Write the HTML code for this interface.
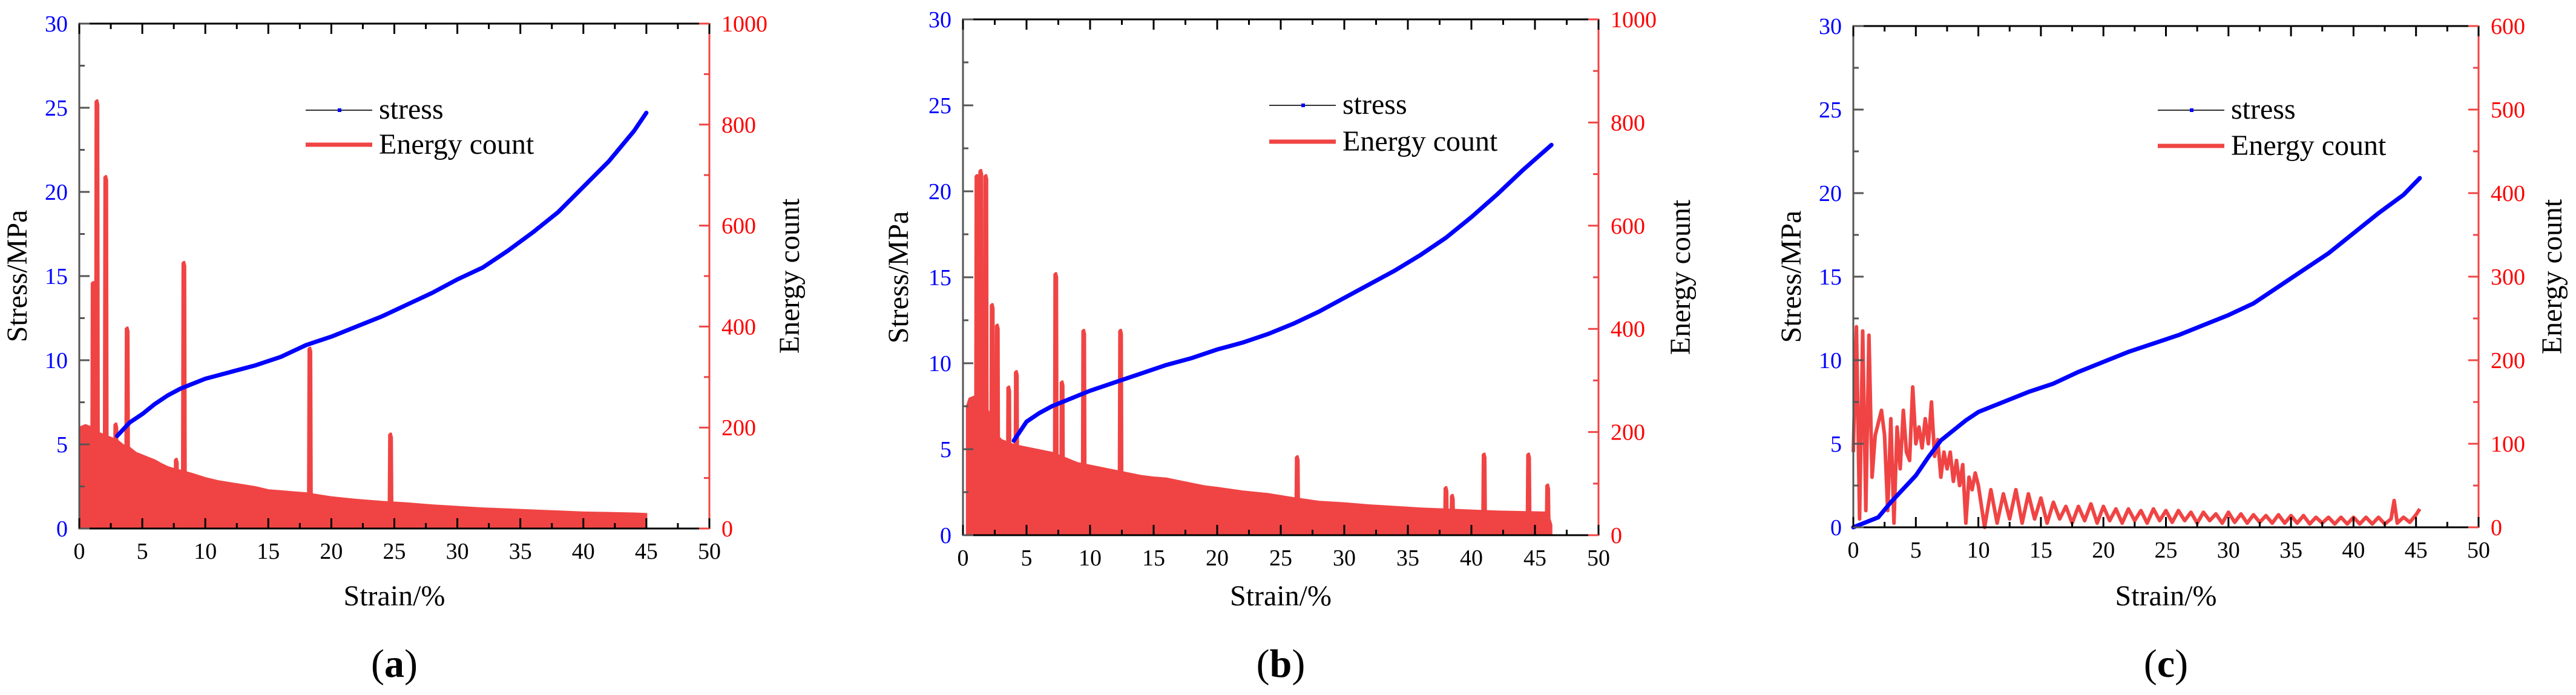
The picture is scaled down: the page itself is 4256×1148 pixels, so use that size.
<!DOCTYPE html>
<html><head><meta charset="utf-8"><title>Stress and energy count vs strain</title>
<style>
html,body{margin:0;padding:0;background:#fff;}
svg{display:block;}
svg text{font-family:"Liberation Serif","DejaVu Serif",serif;}
</style></head>
<body>
<svg id="fig" width="4256" height="1148" viewBox="0 0 4256 1148" xmlns="http://www.w3.org/2000/svg" font-family="Liberation Serif, DejaVu Serif, serif"></svg>
<script>
// ---------- Panel (a) data ----------
const aStressX = [3,4,5,6,7,8,9,10,12,14,16,18,20,22,24,26,28,30,32,34,36,38,40,42,44,45];
const aStressY = [5.5,6.3,6.8,7.4,7.9,8.3,8.6,8.9,9.3,9.7,10.2,10.9,11.4,12,12.6,13.3,14,14.8,15.5,16.5,17.6,18.8,20.3,21.8,23.6,24.7];
const aEnergyX = [0,0.5,1,1.5,2,2.5,3,3.5,4,4.5,5,5.5,6,6.5,7,7.5,8,9,10,11,12,13,14,15,16,17,18,19,20,22,24,26,28,30,32,34,36,38,40,42,44,45];
const aEnergyY = [200,205,200,190,185,180,175,165,160,150,145,140,135,128,122,118,115,108,100,94,90,86,82,76,74,72,70,66,62,57,53,50,46,43,40,38,36,34,32,31,30,29];
const aSpikeX = [1.1,1.4,2.1,2.9,3.8,7.7,8.3,18.3,24.7];
const aSpikeY = [490,850,700,210,400,140,530,360,190];
// ---------- Panel (b) data ----------
const bStressX = [4,5,6,7,8,10,12,14,16,18,20,22,24,26,28,30,32,34,36,38,40,42,44,46.3];
const bStressY = [5.5,6.6,7.1,7.5,7.8,8.4,8.9,9.4,9.9,10.3,10.8,11.2,11.7,12.3,13,13.8,14.6,15.4,16.3,17.3,18.5,19.8,21.2,22.7];
const bEnergyX = [0.3,0.5,1,1.5,2,2.5,3,4,5,6,7,8,9,10,11,12,13,14,15,16,17,18,19,20,22,24,26,28,30,32,34,36,38,40,42,44,46,46.3];
const bEnergyY = [250,265,270,260,240,200,185,175,170,165,160,150,140,135,130,125,120,115,112,110,105,100,95,92,85,80,72,65,62,58,55,52,50,48,46,45,44,20];
const bSpikeX = [1.1,1.4,1.8,2.3,2.7,3.6,4.2,7.3,7.8,9.5,12.4,26.3,38,38.5,41,44.5,46];
const bSpikeY = [700,710,700,450,410,290,320,510,300,400,400,155,95,80,160,160,100];
// ---------- Panel (c) data ----------
const cStressX = [0,1,2,3,4,5,6,7,8,9,10,12,14,16,18,20,22,24,26,28,30,32,34,36,38,40,42,44,45.3];
const cStressY = [0,0.3,0.6,1.5,2.3,3.1,4.2,5.2,5.8,6.4,6.9,7.5,8.1,8.6,9.3,9.9,10.5,11,11.5,12.1,12.7,13.4,14.4,15.4,16.4,17.6,18.8,19.9,20.9];
const cEnergyX = [0,0.25,0.5,0.75,1,1.25,1.5,1.75,2,2.25,2.5,2.75,3,3.25,3.5,3.75,4,4.25,4.5,4.75,5,5.25,5.5,5.75,6,6.25,6.5,6.75,7,7.25,7.5,7.75,8,8.25,8.5,8.75,9,9.25,9.5,9.75,10,10.5,11,11.5,12,12.5,13,13.5,14,14.5,15,15.5,16,16.5,17,17.5,18,18.5,19,19.5,20,20.5,21,21.5,22,22.5,23,23.5,24,24.5,25,25.5,26,26.5,27,27.5,28,28.5,29,29.5,30,30.5,31,31.5,32,32.5,33,33.5,34,34.5,35,35.5,36,36.5,37,37.5,38,38.5,39,39.5,40,40.5,41,41.5,42,42.5,43,43.25,43.5,44,44.5,45,45.3];
const cEnergyY = [90,240,10,235,20,230,60,110,125,140,110,20,130,5,120,70,140,90,80,168,100,120,95,130,100,150,85,105,60,90,70,90,55,80,50,75,5,60,45,65,50,0,45,5,40,10,45,5,40,10,35,5,30,10,25,5,25,8,28,5,25,8,22,5,22,8,20,5,22,8,20,6,20,8,18,5,18,8,16,5,18,6,16,5,15,6,14,5,15,5,14,5,14,4,12,5,12,4,12,4,12,4,12,4,12,4,10,32,5,12,6,15,22];
// ---------- tick labels ----------
const xTickLabels = ["0","5","10","15","20","25","30","35","40","45","50"];
const stressTickLabels = ["0","5","10","15","20","25","30"];
const energyTickLabelsAB = ["0","200","400","600","800","1000"];
const energyTickLabelsC = ["0","100","200","300","400","500","600"];

const NS = "http://www.w3.org/2000/svg";
const FONT = '"Liberation Serif", "DejaVu Serif", serif';
const svg = document.getElementById('fig');
function mk(tag, attrs, parent){
  const e = document.createElementNS(NS, tag);
  for (const k in attrs) e.setAttribute(k, attrs[k]);
  if (tag === 'text') e.style.fontFamily = FONT;
  (parent||svg).appendChild(e);
  return e;
}
const RED = "#f04444";

function panel(p){
  const g = mk('g', {});
  
  
  const sx = v => p.L + (v/50)*(p.R-p.L);
  const sy = v => p.B - (v/30)*(p.B-p.T);
  const se = v => p.B - (v/p.emax)*(p.B-p.T);

  if (p.fill){
    let d = 'M' + sx(p.ex[0]) + ',' + p.B;
    for (let i=0;i<p.ex.length;i++) d += ' L' + sx(p.ex[i]) + ',' + se(p.ey[i]);
    d += ' L' + sx(p.ex[p.ex.length-1]) + ',' + p.B + ' Z';
    const f = mk('path', {d:d, fill:RED, stroke:RED, 'stroke-width':3}, g);
    
    
    for (let i=0;i<p.spx.length;i++){
      const x = sx(p.spx[i]);
      const s = mk('path', {d:'M'+(x-5)+','+p.B+' L'+(x-4)+','+(se(p.spy[i])+3)+' L'+(x-1)+','+se(p.spy[i])+' L'+(x+2)+','+se(p.spy[i])+' L'+(x+4)+','+(se(p.spy[i])+8)+' L'+(x+5)+','+p.B+' Z', fill:RED}, g);
      
      
    }
  } else {
    const pts = p.ex.map((v,i)=> sx(v)+','+se(p.ey[i])).join(' ');
    const l = mk('polyline', {points:pts, fill:'none', stroke:RED, 'stroke-width':6, 'stroke-linejoin':'round'}, g);
    
    
  }
  const sp = p.sxArr.map((v,i)=> sx(v)+','+sy(p.syArr[i])).join(' ');
  const st = mk('polyline', {points:sp, fill:'none', stroke:'#0000ff', 'stroke-width':7, 'stroke-linejoin':'round','stroke-linecap':'round'}, g);
  
  

  const ax = mk('g', {}, g);
  
  
  mk('line', {x1:p.L-1, y1:p.T, x2:p.R, y2:p.T, stroke:'#000', 'stroke-width':3}, ax);
  mk('line', {x1:p.L, y1:p.B, x2:p.R, y2:p.B, stroke:'#000', 'stroke-width':3}, ax);
  mk('line', {x1:p.L, y1:p.T+2, x2:p.L, y2:p.B+1, stroke:'#555', 'stroke-width':3}, ax);
  mk('line', {x1:p.R, y1:p.T-1, x2:p.R, y2:p.B+1, stroke:RED, 'stroke-width':3}, ax);
  for (let i=0;i<=20;i++){
    const v = i*2.5, x = sx(v), len = (i%2===0)?17:9;
    mk('line', {x1:x, y1:p.T, x2:x, y2:p.T+len, stroke:'#000','stroke-width':3}, ax);
    mk('line', {x1:x, y1:p.B, x2:x, y2:p.B-len, stroke:'#000','stroke-width':3}, ax);
  }
  xTickLabels.forEach((t,i)=>{
    const tx = mk('text', {x:sx(i*5), y:p.B+50, 'font-size':38, 'text-anchor':'middle', fill:'#000'}, ax);
    tx.textContent = t;
    
    
  });
  for (let i=0;i<=12;i++){
    const y = sy(i*2.5), len = (i%2===0)?17:9;
    mk('line', {x1:p.L, y1:y, x2:p.L+len, y2:y, stroke:'#555','stroke-width':3}, ax);
  }
  stressTickLabels.forEach((t,i)=>{
    const tx = mk('text', {x:p.L-19, y:sy(i*5)+13, 'font-size':38, 'text-anchor':'end', fill:'#0000ff'}, ax);
    tx.textContent = t;
    
    
  });
  const nMinor = p.elabels.length*2-2;
  for (let i=0;i<=nMinor;i++){
    const y = se(i*p.emax/nMinor), len = (i%2===0)?17:9;
    mk('line', {x1:p.R, y1:y, x2:p.R-len, y2:y, stroke:RED,'stroke-width':3}, ax);
  }
  p.elabels.forEach((t,i)=>{
    const tx = mk('text', {x:p.R+20, y:se(i*p.emax/(p.elabels.length-1))+13, 'font-size':38, 'text-anchor':'start', fill:'#ff0000'}, ax);
    tx.textContent = t;
    
    
  });
  const xt = mk('text', {x:(p.L+p.R)/2, y:1000, 'font-size':48, 'text-anchor':'middle', fill:'#000'}, g);
  xt.textContent = 'Strain/%';
  
  
  const yt = mk('text', {x:0, y:0, 'font-size':48, 'text-anchor':'middle', fill:'#000', transform:'translate('+p.ytx+','+((p.T+p.B)/2)+') rotate(-90)'}, g);
  yt.textContent = 'Stress/MPa';
  
  
  const rt = mk('text', {x:0, y:0, 'font-size':48, 'text-anchor':'middle', fill:'#000', transform:'translate('+p.rtx+','+((p.T+p.B)/2)+') rotate(-90)'}, g);
  rt.textContent = 'Energy count';
  
  
  const lg = mk('g', {}, g);
  
  
  mk('line', {x1:p.lx, y1:p.ly1, x2:p.lx+110, y2:p.ly1, stroke:'#333','stroke-width':2}, lg);
  mk('rect', {x:p.lx+53, y:p.ly1-3, width:6, height:6, fill:'#0000ff'}, lg);
  mk('line', {x1:p.lx, y1:p.ly2, x2:p.lx+110, y2:p.ly2, stroke:RED,'stroke-width':7}, lg);
  const l1 = mk('text', {x:p.lx+121, y:p.ly1+14, 'font-size':48, fill:'#000'}, lg);
  l1.textContent = 'stress';
  
  
  const l2 = mk('text', {x:p.lx+121, y:p.ly2+15, 'font-size':48, fill:'#000'}, lg);
  l2.textContent = 'Energy count';
  
  
  const cap = mk('text', {x:(p.L+p.R)/2, y:1118, 'font-size':66, 'text-anchor':'middle', fill:'#000'}, g);
  cap.innerHTML = '(<tspan font-weight="bold">'+p.id+'</tspan>)';
  
  
}

panel({id:'a', L:131, T:39, R:1172, B:873, emax:1000, elabels:energyTickLabelsAB, fill:true,
  ex:aEnergyX, ey:aEnergyY, spx:aSpikeX, spy:aSpikeY, sxArr:aStressX, syArr:aStressY,
  ytx:44, rtx:1320, lx:505, ly1:182, ly2:239});
panel({id:'b', L:1591, T:32, R:2641, B:884, emax:1000, elabels:energyTickLabelsAB, fill:true,
  ex:bEnergyX, ey:bEnergyY, spx:bSpikeX, spy:bSpikeY, sxArr:bStressX, syArr:bStressY,
  ytx:1500, rtx:2792, lx:2097, ly1:174, ly2:234});
panel({id:'c', L:3062, T:43, R:4095, B:871, emax:600, elabels:energyTickLabelsC, fill:false,
  ex:cEnergyX, ey:cEnergyY, spx:[], spy:[], sxArr:cStressX, syArr:cStressY,
  ytx:2975, rtx:4232, lx:3565, ly1:182, ly2:241});
</script>
</body></html>
